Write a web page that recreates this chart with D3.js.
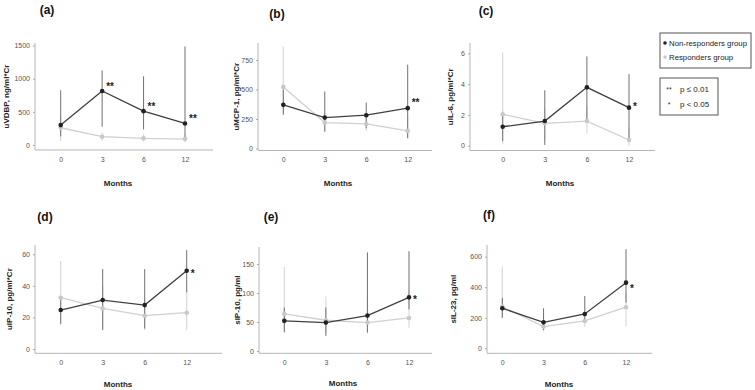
<!DOCTYPE html>
<html>
<head>
<meta charset="utf-8">
<script src="https://cdn.jsdelivr.net/npm/d3@7"></script>
<style>
    body { margin: 0; background: #fff; }
    svg { display: block; font-family: "Liberation Sans", Arial, sans-serif; }
</style>
</head>
<body>
<svg id="chart" width="755" height="390"></svg>
<script>
const months = ["0", "3", "6", "12"];

// (a) uVDBP
const vdbpNon = [300, 815, 510, 325];
const vdbpNonErr = [[130, 825], [275, 1125], [235, 1035], [100, 1485]];
const vdbpRes = [260, 125, 100, 90];
const vdbpResErr = [[60, 450], [60, 190], [50, 170], [40, 150]];
const vdbpSig = ["", "**", "**", "**"];
const vdbpTicks = [0, 500, 1000, 1500];

// (b) uMCP-1
const mcpNon = [370, 262, 282, 342];
const mcpNonErr = [[285, 500], [143, 483], [172, 390], [87, 710]];
const mcpRes = [522, 219, 208, 149];
const mcpResErr = [[300, 865], [140, 300], [150, 280], [90, 260]];
const mcpSig = ["", "", "", "**"];
const mcpTicks = [0, 250, 500, 750];

// (c) uIL-6
const il6Non = [1.23, 1.6, 3.79, 2.47];
const il6NonErr = [[0.3, 2.2], [0.05, 3.6], [1.7, 5.8], [0.3, 4.65]];
const il6Res = [2.04, 1.45, 1.6, 0.37];
const il6ResErr = [[0.1, 6.05], [0.4, 2.4], [0.8, 2.6], [0.0, 1.2]];
const il6Sig = ["", "", "", "*"];
const il6Ticks = [0, 2, 4, 6];

// (d) uIP-10
const uip10Non = [24.7, 31, 27.8, 49.6];
const uip10NonErr = [[15.6, 33], [12, 50.6], [13, 50.6], [36, 62.7]];
const uip10Res = [32.5, 25.7, 21.1, 23];
const uip10ResErr = [[18, 55.7], [13, 40], [12, 32], [12, 37]];
const uip10Sig = ["", "", "", "*"];
const uip10Ticks = [0, 20, 40, 60];

// (e) sIP-10
const sip10Non = [52, 49, 61, 92.5];
const sip10NonErr = [[32, 75], [26, 75], [32, 170], [72, 172]];
const sip10Res = [64, 53, 49, 57];
const sip10ResErr = [[35, 145], [30, 94], [30, 95], [40, 105]];
const sip10Sig = ["", "", "", "*"];
const sip10Ticks = [0, 50, 100, 150];

// (f) sIL-23
const il23Non = [262, 170, 225, 430];
const il23NonErr = [[200, 330], [120, 262], [180, 343], [300, 649]];
const il23Res = [273, 142, 179, 269];
const il23ResErr = [[197, 535], [109, 200], [140, 230], [142, 360]];
const il23Sig = ["", "", "", "*"];
const il23Ticks = [0, 200, 400, 600];

const panels = [
    { tag: "(a)", label: "uVDBP, ng/ml*Cr", non: vdbpNon, nonErr: vdbpNonErr, res: vdbpRes, resErr: vdbpResErr, sig: vdbpSig, ticks: vdbpTicks },
    { tag: "(b)", label: "uMCP-1, pg/ml*Cr", non: mcpNon, nonErr: mcpNonErr, res: mcpRes, resErr: mcpResErr, sig: mcpSig, ticks: mcpTicks },
    { tag: "(c)", label: "uIL-6, pg/ml*Cr", non: il6Non, nonErr: il6NonErr, res: il6Res, resErr: il6ResErr, sig: il6Sig, ticks: il6Ticks },
    { tag: "(d)", label: "uIP-10, pg/ml*Cr", non: uip10Non, nonErr: uip10NonErr, res: uip10Res, resErr: uip10ResErr, sig: uip10Sig, ticks: uip10Ticks },
    { tag: "(e)", label: "sIP-10, pg/ml", non: sip10Non, nonErr: sip10NonErr, res: sip10Res, resErr: sip10ResErr, sig: sip10Sig, ticks: sip10Ticks },
    { tag: "(f)", label: "sIL-23, pg/ml", non: il23Non, nonErr: il23NonErr, res: il23Res, resErr: il23ResErr, sig: il23Sig, ticks: il23Ticks }
];

// pixel layout of each panel (axis lines, zero / top tick rows, first / last month)
const layout = [
    { x0: 35,  x1: 213, top: 43,  base: 150,   zeroY: 145,   topY: 45.5,  p0: 60.7,  p1: 185,   tx: 47,  ty: 14,  lx: 6,   mx: 118, my: 186, sdy: -1 },
    { x0: 258, x1: 432, top: 43,  base: 150.5, zeroY: 148.5, topY: 60,    p0: 283.3, p1: 407.7, tx: 277, ty: 18,  lx: 236, mx: 338, my: 186, sdy: -2 },
    { x0: 470, x1: 655, top: 43,  base: 150.5, zeroY: 145.7, topY: 53.3,  p0: 502.7, p1: 629,   tx: 486, ty: 15,  lx: 450, mx: 560, my: 186, sdy: 2 },
    { x0: 35,  x1: 222, top: 245, base: 353.3, zeroY: 349,   topY: 254.3, p0: 60.7,  p1: 186.7, tx: 45,  ty: 221, lx: 9,   mx: 118, my: 387, sdy: 6 },
    { x0: 259, x1: 432, top: 247, base: 353.3, zeroY: 351,   topY: 264,   p0: 284.3, p1: 409,   tx: 271, ty: 221, lx: 237, mx: 343, my: 386, sdy: 6 },
    { x0: 487, x1: 652, top: 245, base: 353.3, zeroY: 348.3, topY: 256.7, p0: 502.3, p1: 626,   tx: 489, ty: 219, lx: 453, mx: 559, my: 387, sdy: 9 }
];

const darkLine = '#404040';
const darkDot = '#222';
const darkBar = '#707070';
const lightLine = '#d0d0d0';
const lightDot = '#c8c8c8';
const lightBar = '#dadada';

const svg = d3.select('#chart');

panels.forEach((p, i) => {
    const L = layout[i];
    const g = svg.append('g');

    const x = d3.scalePoint().domain(months).range([L.p0, L.p1]);
    const y = d3.scaleLinear().domain([0, d3.max(p.ticks)]).range([L.zeroY, L.topY]);

    // panel tag
    g.append('text')
        .attr('x', L.tx).attr('y', L.ty)
        .attr('text-anchor', 'middle')
        .style('font-size', '12px')
        .style('font-weight', 'bold')
        .style('fill', '#111')
        .text(p.tag);

    // axes lines
    g.append('line')
        .attr('x1', L.x0).attr('x2', L.x0)
        .attr('y1', L.top).attr('y2', L.base)
        .style('stroke', '#b5b5b5').style('stroke-width', 1);
    g.append('line')
        .attr('x1', L.x0).attr('x2', L.x1)
        .attr('y1', L.base).attr('y2', L.base)
        .style('stroke', '#b5b5b5').style('stroke-width', 1);

    // y ticks
    const yAxis = g.append('g')
        .attr('transform', `translate(${L.x0},0)`)
        .call(d3.axisLeft(y).tickValues(p.ticks).tickSize(2).tickPadding(3).tickFormat(d3.format('d')));
    yAxis.select('.domain').remove();
    yAxis.selectAll('.tick line').style('stroke', '#aaa');
    yAxis.selectAll('.tick text')
        .attr('font-family', null)
        .style('font-size', '7px')
        .style('fill', '#555');

    // x tick labels
    const xAxis = g.append('g')
        .attr('transform', `translate(0,${L.base})`)
        .call(d3.axisBottom(x).tickSize(0).tickPadding(7));
    xAxis.select('.domain').remove();
    xAxis.selectAll('.tick text')
        .attr('font-family', null)
        .style('font-size', '7px')
        .style('fill', '#555');

    // axis titles
    g.append('text')
        .attr('x', L.mx).attr('y', L.my)
        .attr('text-anchor', 'middle')
        .style('font-size', '8px')
        .style('font-weight', 'bold')
        .style('fill', '#222')
        .text('Months');

    g.append('text')
        .attr('transform', `translate(${L.lx},${(L.top + L.base) / 2}) rotate(-90)`)
        .attr('text-anchor', 'middle')
        .attr('dy', '0.35em')
        .style('font-size', '8px')
        .style('font-weight', 'bold')
        .style('fill', '#222')
        .text(p.label);

    // error bars: responders first, then non-responders
    g.selectAll('.res-err')
        .data(p.resErr)
        .join('line')
        .attr('x1', (d, j) => x(months[j])).attr('x2', (d, j) => x(months[j]))
        .attr('y1', d => y(d[0])).attr('y2', d => y(d[1]))
        .style('stroke', lightBar).style('stroke-width', 1.2);

    g.selectAll('.non-err')
        .data(p.nonErr)
        .join('line')
        .attr('x1', (d, j) => x(months[j])).attr('x2', (d, j) => x(months[j]))
        .attr('y1', d => y(d[0])).attr('y2', d => y(d[1]))
        .style('stroke', darkBar).style('stroke-width', 1);

    const line = d3.line()
        .x((d, j) => x(months[j]))
        .y(d => y(d));

    g.append('path')
        .datum(p.res)
        .attr('d', line)
        .style('fill', 'none')
        .style('stroke', lightLine)
        .style('stroke-width', 1.3);

    g.selectAll('.res-dot')
        .data(p.res)
        .join('circle')
        .attr('cx', (d, j) => x(months[j]))
        .attr('cy', d => y(d))
        .attr('r', 2.3)
        .style('fill', lightDot);

    g.append('path')
        .datum(p.non)
        .attr('d', line)
        .style('fill', 'none')
        .style('stroke', darkLine)
        .style('stroke-width', 1.3);

    g.selectAll('.non-dot')
        .data(p.non)
        .join('circle')
        .attr('cx', (d, j) => x(months[j]))
        .attr('cy', d => y(d))
        .attr('r', 2.3)
        .style('fill', darkDot);

    // significance marks
    g.selectAll('.sig')
        .data(p.sig)
        .join('text')
        .attr('x', (d, j) => x(months[j]) + 4)
        .attr('y', (d, j) => y(p.non[j]) + L.sdy)
        .style('font-size', '10px')
        .style('font-weight', 'bold')
        .style('fill', '#222')
        .text(d => d);
});

// legend: groups
const legend = svg.append('g');
legend.append('rect')
    .attr('x', 660).attr('y', 33).attr('width', 91).attr('height', 35)
    .style('fill', 'none').style('stroke', '#555').style('stroke-width', 1);

const groups = [
    { name: 'Non-responders group', color: darkDot, y: 43 },
    { name: 'Responders group', color: lightDot, y: 57 }
];
groups.forEach(gr => {
    legend.append('circle')
        .attr('cx', 665).attr('cy', gr.y).attr('r', 1.8)
        .style('fill', gr.color);
    legend.append('text')
        .attr('x', 669).attr('y', gr.y).attr('dy', '0.35em')
        .style('font-size', '7.8px')
        .style('fill', '#222')
        .text(gr.name);
});

// legend: p-values
legend.append('rect')
    .attr('x', 660).attr('y', 78).attr('width', 58).attr('height', 37)
    .style('fill', 'none').style('stroke', '#555').style('stroke-width', 1);

const pLevels = [
    { mark: '**', text: 'p \u2264 0.01', y: 89 },
    { mark: '*', text: 'p < 0.05', y: 104 }
];
pLevels.forEach(pl => {
    legend.append('text')
        .attr('x', 669).attr('y', pl.y + 3)
        .attr('text-anchor', 'middle')
        .style('font-size', '7px')
        .style('fill', '#333')
        .text(pl.mark);
    legend.append('text')
        .attr('x', 680).attr('y', pl.y).attr('dy', '0.35em')
        .style('font-size', '8px')
        .style('fill', '#222')
        .text(pl.text);
});
</script>
</body>
</html>
